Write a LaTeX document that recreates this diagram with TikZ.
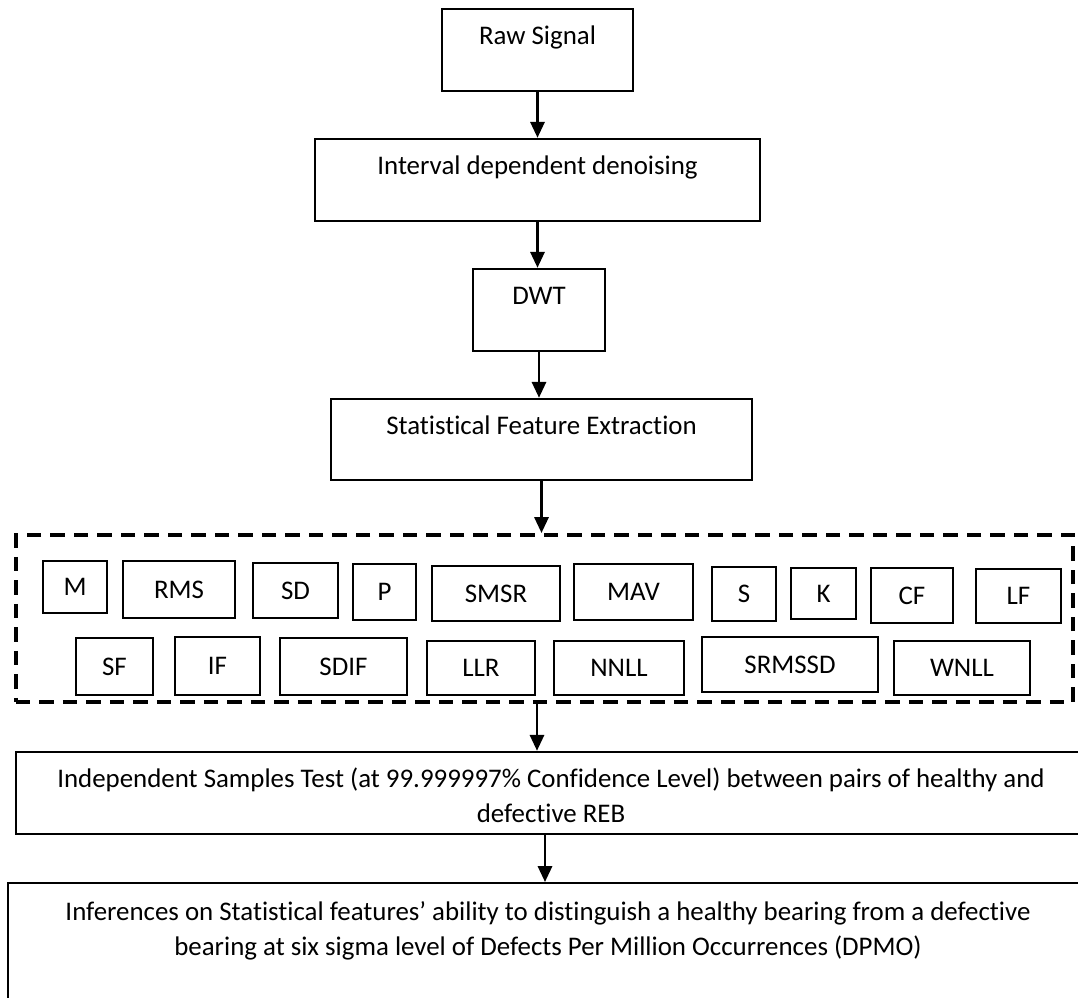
\documentclass[tikz,border=0pt]{standalone}
\usepackage{fontspec}
\setmainfont{Carlito}[Ligatures=CommonOff]
\usepackage{tikz}
\usetikzlibrary{arrows.meta}

\tikzset{
    every node/.style = {font=\fontsize{15.3pt}{19.9pt}\selectfont},
    stagebox/.style   = {draw, line width=1.4pt, inner sep=0pt, text height=10.5pt, text depth=16.3pt},
    featbox/.style    = {draw, line width=1.4pt, inner sep=0pt},
    featframe/.style  = {draw, line width=2.3pt, dash pattern=on 0.29cm off 0.18cm},
    wideblock/.style  = {draw, line width=1.4pt, inner sep=0pt, align=center},
    flow/.style       = {line width=1.5pt, -{Triangle[length=9pt,width=8pt]}},
}

\begin{document}
\begin{tikzpicture}
            % Frame to ensure alignment:
            \useasboundingbox                                                  (0.00, 0.00) rectangle (21.56,-19.94);
            \clip                                                              (0.00, 0.00) rectangle (21.56,-19.94);
            \node[stagebox,  minimum width=3.82cm,  minimum height=1.64cm] (raw)       at (10.75, -1.00) {Raw Signal};
            \node[stagebox,  minimum width=8.90cm,  minimum height=1.64cm] (denoise)   at (10.75, -3.60) {Interval dependent denoising};
            \node[stagebox,  minimum width=2.64cm,  minimum height=1.64cm] (dwt)       at (10.78, -6.20) {DWT};
            \node[stagebox,  minimum width=8.42cm,  minimum height=1.62cm] (extract)   at (10.83, -8.79) {Statistical Feature Extraction};
            \node[featframe, minimum width=21.14cm, minimum height=3.34cm] (features)  at (10.89,-12.37) {};
            % First row of features:
            \node[featbox,   minimum width=1.28cm,  minimum height=1.04cm] (M)         at ( 1.50,-11.74) {M};
            \node[featbox,   minimum width=2.24cm,  minimum height=1.14cm] (RMS)       at ( 3.58,-11.79) {RMS};
            \node[featbox,   minimum width=1.70cm,  minimum height=1.10cm] (SD)        at ( 5.91,-11.81) {SD};
            \node[featbox,   minimum width=1.26cm,  minimum height=1.12cm] (P)         at ( 7.69,-11.84) {P};
            \node[featbox,   minimum width=2.56cm,  minimum height=1.10cm] (SMSR)      at ( 9.92,-11.87) {SMSR};
            \node[featbox,   minimum width=2.38cm,  minimum height=1.12cm] (MAV)       at (12.67,-11.84) {MAV};
            \node[featbox,   minimum width=1.28cm,  minimum height=1.08cm] (S)         at (14.88,-11.88) {S};
            \node[featbox,   minimum width=1.30cm,  minimum height=1.02cm] (K)         at (16.47,-11.87) {K};
            \node[featbox,   minimum width=1.64cm,  minimum height=1.10cm] (CF)        at (18.24,-11.91) {CF};
            \node[featbox,   minimum width=1.70cm,  minimum height=1.08cm] (LF)        at (20.37,-11.92) {LF};
            % Second row of features:
            \node[featbox,   minimum width=1.54cm,  minimum height=1.14cm] (SF)        at ( 2.29,-13.33) {SF};
            \node[featbox,   minimum width=1.70cm,  minimum height=1.16cm] (IF)        at ( 4.35,-13.32) {IF};
            \node[featbox,   minimum width=2.54cm,  minimum height=1.14cm] (SDIF)      at ( 6.87,-13.33) {SDIF};
            \node[featbox,   minimum width=2.16cm,  minimum height=1.08cm] (LLR)       at ( 9.62,-13.36) {LLR};
            \node[featbox,   minimum width=2.60cm,  minimum height=1.08cm] (NNLL)      at (12.38,-13.36) {NNLL};
            \node[featbox,   minimum width=3.52cm,  minimum height=1.10cm] (SRMSSD)    at (15.80,-13.29) {SRMSSD};
            \node[featbox,   minimum width=2.72cm,  minimum height=1.08cm] (WNLL)      at (19.24,-13.36) {WNLL};
            % Tests and inferences:
            \node[wideblock, minimum width=21.40cm, minimum height=1.64cm] (ttest)     at (11.02,-15.86)
                 {\strut Independent Samples Test (at 99.999997\% Confidence Level) between pairs of healthy and\\defective REB};
            \node[wideblock, minimum width=21.60cm, minimum height=3.43cm] (inference) at (10.96,-19.38)
                 {Inferences on Statistical features’ ability to distinguish a healthy bearing from a defective\\bearing at six sigma level of Defects Per Million Occurrences (DPMO)\\\strut\\\strut};
            % Connectors:
            \draw[flow] (raw.south)                       -- (denoise.north);
            \draw[flow] (denoise.south)                   -- (denoise.south |- dwt.north);
            \draw[flow] (dwt.south)                       -- (dwt.south |- extract.north);
            \draw[flow] (extract.south)                   -- (extract.south |- features.north);
            \draw[flow] ([xshift=-0.15cm]features.south)  -- ([xshift=-0.15cm]features.south |- ttest.north);
            \draw[flow] ([xshift=-0.12cm]ttest.south)     -- ([xshift=-0.12cm]ttest.south |- inference.north);
        \end{tikzpicture}
\end{document}
